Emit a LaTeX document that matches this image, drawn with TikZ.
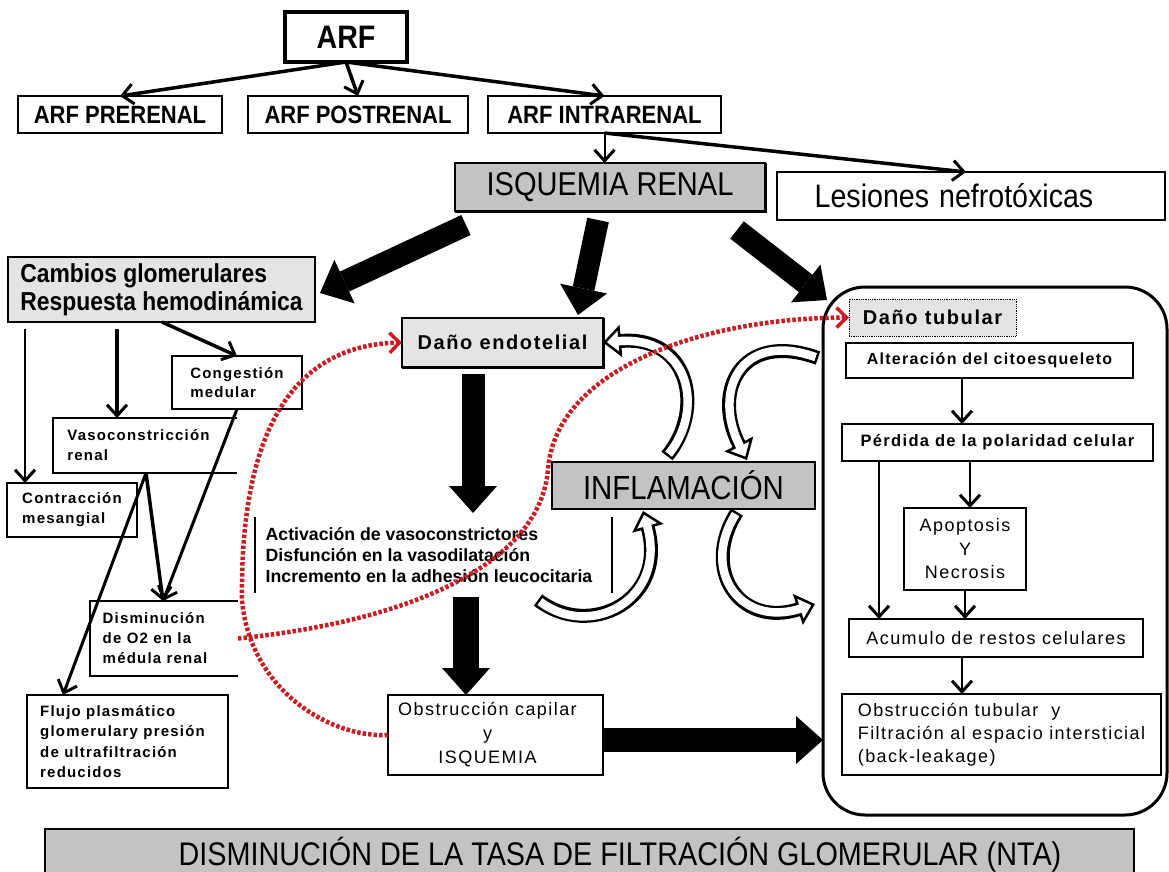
\documentclass[tikz,border=0pt]{standalone}
\usepackage{fontspec}
\setmainfont{Liberation Sans}
\newfontfamily\fa[FakeStretch=0.88]{Liberation Sans}
\newfontfamily\fb[LetterSpace=8]{Liberation Sans}
\usetikzlibrary{arrows.meta}
\definecolor{grayA}{RGB}{195,195,195}
\definecolor{grayB}{RGB}{228,228,228}
\definecolor{dotred}{RGB}{200,30,35}
\newcommand\fz[2]{\fontsize{#1}{#2}\selectfont}
\newcommand\gap[1]{\rule{#1}{0pt}}
% hollow (outlined) curved arrow: black outline, white core
\newcommand\hollowarrow[1]{\draw[hollowout] #1; \draw[hollowin] #1;}
\tikzset{
  box/.style={draw, line width=2pt, inner sep=0pt, outer sep=0pt},
  bare/.style={inner sep=0pt, outer sep=0pt},
  arw/.style={line width=3pt, -{Straight Barb[length=11pt,width=20pt,line width=3pt]}},
  blk/.style={line width=22pt, -{Triangle[width=48pt,length=27pt,line width=0pt]}},
  hollowout/.style={line width=14pt, -{Triangle[width=32pt,length=18pt,fill=white,line width=2.5pt]}},
  hollowin/.style={draw=white, line width=8.5pt, shorten >=15pt, shorten <=2.5pt},
  reddash/.style={draw=dotred, line width=4.5pt, dash pattern=on 3.5pt off 2pt,
    -{Straight Barb[length=10pt,width=20pt,line width=3.5pt]}},
}
\begin{document}
\begin{tikzpicture}[x=1pt,y=-1pt]
\useasboundingbox (0,0) rectangle (1169,872);

% ---- top level
\node[box, line width=4pt, minimum width=122pt, minimum height=50pt] (arf) at (346,37) {\fa\bfseries\fz{32.5}{36}ARF};
\node[box, minimum width=204pt, minimum height=37pt] (pre) at (120,114.5) {\fa\bfseries\fz{25}{28}ARF PRERENAL};
\node[box, minimum width=220pt, minimum height=37pt] (post) at (358,114.5) {\fa\bfseries\fz{25}{28}ARF POSTRENAL};
\node[box, minimum width=233pt, minimum height=37pt] (intra) at (604.5,114.5) {\fa\bfseries\fz{25}{28}ARF INTRARENAL};

\node[box, line width=1.5pt, fill=grayA, minimum width=310pt, minimum height=48pt] (isq) at (610,187) {\fa\fz{33}{36}ISQUEMIA RENAL};
\draw[line width=2.5pt] ([yshift=-1pt]isq.south west) -- ([xshift=1pt,yshift=-1pt]isq.south east) -- ([xshift=1pt]isq.north east);
\node[box, line width=1.5pt, minimum width=388pt, minimum height=48pt] (les) at (971,196) {\fa\fz{32.5}{36}Lesiones\hspace{10pt}nefrotóxicas\gap{34pt}};

% ---- glomerular branch
\node[box, fill=grayB, minimum width=307pt, minimum height=65pt, align=left,
  font=\fa\bfseries\fz{26}{28}] (cam) at (161.5,289.5) {Cambios glomerulares\\Respuesta hemodinámica};
\node[box, minimum width=130pt, minimum height=53pt, align=left,
  font=\fb\bfseries\fz{15}{19}] (cong) at (237,382.5) {Congestión\\medular};
\node[bare, minimum width=184pt, minimum height=55pt, align=left,
  font=\fb\bfseries\fz{15}{20}] (vaso) at (145,445.5) {Vasoconstricción\gap{13pt}\\renal};
\draw[line width=2pt] (vaso.north east) -- (vaso.north west) -- (vaso.south west) -- (vaso.south east);
\node[box, minimum width=130pt, minimum height=54pt, align=left,
  font=\fb\bfseries\fz{15}{20}] (cont) at (72,510) {Contracción\\mesangial};
\node[bare, minimum width=148pt, minimum height=75pt, align=left,
  font=\fb\bfseries\fz{15}{20}] (dism) at (164,638.5) {Disminución\\de O2 en la\\médula renal\gap{18pt}};
\draw[line width=2pt] (dism.north east) -- (dism.north west) -- (dism.south west) -- (dism.south east);
\node[box, minimum width=201pt, minimum height=93pt, align=left,
  font=\fb\bfseries\fz{15}{20.3}] (flujo) at (127.5,741.5) {Flujo plasmático\\glomerulary presión\gap{10pt}\\de ultrafiltración\\reducidos};

% ---- endothelial branch
\node[box, fill=grayB, minimum width=201pt, minimum height=49pt,
  font=\fb\bfseries\fz{20}{24}] (dend) at (502.5,342.5) {Daño endotelial};
\draw[line width=2.5pt] ([yshift=-1pt]dend.south west) -- ([xshift=1pt,yshift=-1pt]dend.south east) -- ([xshift=1pt]dend.north east);
\node[bare, minimum width=357pt, minimum height=76pt, align=left,
  font=\bfseries\fz{17.7}{21}] (act) at (433.5,555) {Activación de vasoconstrictores\\Disfunción en la vasodilatación\\Incremento en la adhesión leucocitaria\gap{9pt}};
\draw[line width=1.2pt] (act.north west) -- (act.south west);
\draw[line width=1.2pt] (act.north east) -- (act.south east);
\node[box, minimum width=215pt, minimum height=80pt, align=center,
  font=\fb\fz{18}{24}] (obcap) at (495.5,735) {Obstrucción capilar\gap{16pt}\\y\gap{16pt}\\ISQUEMIA\gap{16pt}};
\node[box, line width=1.5pt, fill=grayA, minimum width=263pt, minimum height=47pt,
  font=\fa\fz{33.4}{36}] (inf) at (683.5,485.5) {INFLAMACIÓN};

% ---- tubular branch
\node[draw, line width=3pt, rounded corners=42pt, minimum width=344pt, minimum height=528pt,
  inner sep=0pt, outer sep=0pt] (tub) at (995,551) {};
\node[draw, densely dotted, line width=0.8pt, fill=grayB, inner sep=0pt, outer sep=0pt,
  minimum width=167pt, minimum height=37pt, font=\fb\bfseries\fz{20}{24}] (dtub) at (932.5,317.5) {Daño tubular};
\node[box, minimum width=287pt, minimum height=35pt, font=\fb\bfseries\fz{16}{20}] (alt) at (989.5,360.5) {Alteración del citoesqueleto};
\node[box, minimum width=311pt, minimum height=37pt, font=\fb\bfseries\fz{16.5}{20}] (perd) at (997.5,442.5) {Pérdida de la polaridad celular};
\node[box, minimum width=122pt, minimum height=82pt, align=center, font=\fb\fz{18}{23.5}] (apop) at (965,549) {Apoptosis\\Y\\Necrosis};
\node[box, minimum width=294pt, minimum height=38pt, font=\fb\fz{18}{22}] (acum) at (996,638) {Acumulo de restos celulares};
\node[box, minimum width=319pt, minimum height=81pt, align=left, font=\fb\fz{18}{23}] (obtub) at (1001.5,734.5) {Obstrucción tubular~ y\\Filtración al espacio intersticial\\(back-leakage)};

% ---- result
\node[box, line width=1.5pt, fill=grayA, minimum width=1089pt, minimum height=51pt,
  font=\fa\fz{32.7}{36}] (gfr) at (589.5,854.5) {\gap{61pt}DISMINUCIÓN DE LA TASA DE FILTRACIÓN GLOMERULAR (NTA)};

% ---- thin connectors
\draw[arw, line width=3.5pt] (arf.south) -- (pre.north);
\draw[arw, line width=3.5pt] (arf.south) -- (post.north);
\draw[arw, line width=3.5pt] (arf.south) -- (intra.north);
\draw[arw, line width=2pt] (intra.south) -- (intra.south |- isq.north);
\draw[arw, line width=3.5pt] (intra.south) -- ([xshift=-5pt]les.north);

\draw[arw, line width=2.5pt] ([xshift=17pt,yshift=-7pt]cam.south west) -- ([xshift=18pt]cont.north west);
\draw[arw, line width=4pt] ([xshift=109pt,yshift=-7pt]cam.south west) -- ([xshift=64pt]vaso.north west);
\draw[arw, line width=3.5pt] ([xshift=154pt]cam.south west) -- ([xshift=65pt]cong.north west);
\draw[arw] ([xshift=93pt]vaso.south west) -- ([xshift=36pt]flujo.north west);
\draw[arw, line width=3.5pt] ([xshift=93pt]vaso.south west) -- ([xshift=73pt]dism.north west);
\draw[arw] ([xshift=65pt]cong.south west) -- ([xshift=73pt]dism.north west);

\draw[arw, line width=2.5pt] ([xshift=-27.5pt]alt.south) -- ([xshift=-35.5pt]perd.north);
\draw[arw, line width=2.5pt] ([xshift=-27.5pt]perd.south) -- ([xshift=5pt]apop.north);
\draw[arw, line width=2.5pt] ([xshift=37pt]perd.south west) -- ([xshift=37pt]perd.south west |- acum.north);
\draw[arw, line width=2.5pt] (apop.south) -- (apop.south |- acum.north);
\draw[arw, line width=2.5pt] ([xshift=-34pt]acum.south) -- ([xshift=-34pt]acum.south |- obtub.north);

% ---- block arrows
\draw[blk] ([xshift=11pt,yshift=-14pt]isq.south west) -- ([xshift=5pt,yshift=-3.5pt]cam.east);
\draw[blk] ([xshift=-12pt,yshift=-9pt]isq.south) -- ([xshift=75.5pt,yshift=3pt]dend.north);
\draw[blk] ([xshift=-28pt,yshift=-19pt]isq.south east) -- ([xshift=4pt,yshift=-13pt]tub.north west);
\draw[blk, line width=23pt] ([xshift=-29.5pt,yshift=-7pt]dend.south) -- ([xshift=39.5pt,yshift=4pt]act.north);
\draw[blk, line width=26pt] ([xshift=32.5pt,yshift=-4pt]act.south) -- ([xshift=-29.5pt]obcap.north);
\draw[blk, line width=24pt] ([yshift=-5pt]obcap.east) -- ([yshift=-5pt]obcap.east -| tub.west);

% ---- hollow arrows around the inflammation box
\coordinate (ha1) at ([xshift=115pt,yshift=6pt]inf.north west);
\coordinate (hb1) at ([xshift=-5pt,yshift=193pt]tub.west);
\coordinate (hb2) at ([xshift=195pt,yshift=2pt]inf.north west);
\coordinate (hc1) at (538,600);
\coordinate (hc2) at ([xshift=91pt,yshift=-2pt]inf.south west);
\coordinate (hd1) at ([xshift=185pt,yshift=-3pt]inf.south west);
\coordinate (hd2) at ([xshift=-8pt,yshift=-53pt]tub.west);
\hollowarrow{(ha1) .. controls (705,410) and (690,335) .. (dend.east)}
\hollowarrow{(hb1) .. controls (740,330) and (712,392) .. (hb2)}
\hollowarrow{(hc1) .. controls (590,640) and (668,600) .. (hc2)}
\hollowarrow{(hd1) .. controls (700,570) and (740,628) .. (hd2)}

% ---- red dashed feedback paths
\draw[reddash] (obcap.west) .. controls (330,738) and (250,690) .. (242,600)
  .. controls (240,420) and (300,345) .. (dend.west);
\draw[reddash] (dism.east) .. controls (420,620) and (540,560) .. (548,470)
  .. controls (555,370) and (700,318) .. (dtub.west);
\end{tikzpicture}
\end{document}
